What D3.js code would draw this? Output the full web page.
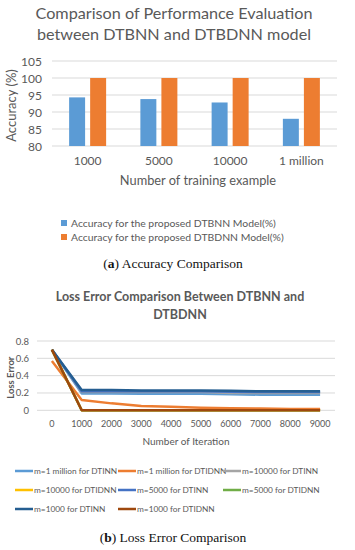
<!DOCTYPE html>
<html>
<head>
<meta charset="utf-8">
<script src="https://cdn.jsdelivr.net/npm/d3@7"></script>
<style>
  body { margin: 0; background: #fff; }
  svg { display: block; }
  .sans { font-family: Lato, "Open Sans", sans-serif; }
  .serif { font-family: "Liberation Serif", "DejaVu Serif", serif; }
</style>
</head>
<body>
<div id="chart"></div>
<script>
// Accuracy chart data
const trainingSizes = ['1000', '5000', '10000', '1 million'];
const accDTBNN = [94.3, 93.8, 92.8, 88.0];
const accDTBDNN = [100, 100, 100, 100];
const accTicks = [80, 85, 90, 95, 100, 105];
const accSeriesNames = ['Accuracy for the proposed DTBNN Model(%)', 'Accuracy for the proposed DTBDNN Model(%)'];

// Loss chart data
const iterations = ['0', '1000', '2000', '3000', '4000', '5000', '6000', '7000', '8000', '9000'];
const loss1mDTINN   = [0.70, 0.195, 0.195, 0.19, 0.19, 0.19, 0.185, 0.18, 0.18, 0.18];
const loss1mDTIDNN  = [0.57, 0.12, 0.08, 0.05, 0.04, 0.03, 0.025, 0.02, 0.015, 0.015];
const loss10kDTINN  = [0.70, 0.21, 0.21, 0.21, 0.21, 0.21, 0.20, 0.20, 0.20, 0.20];
const loss10kDTIDNN = [0.70, 0, 0, 0, 0, 0, 0, 0, 0, 0];
const loss5kDTINN   = [0.70, 0.22, 0.22, 0.22, 0.22, 0.22, 0.215, 0.21, 0.21, 0.21];
const loss5kDTIDNN  = [0.70, 0, 0, 0, 0, 0, 0, 0, 0, 0];
const loss1kDTINN   = [0.70, 0.235, 0.235, 0.23, 0.23, 0.23, 0.225, 0.22, 0.22, 0.22];
const loss1kDTIDNN  = [0.70, 0, 0, 0, 0, 0, 0, 0, 0, 0];
const lossTicks = [0, 0.2, 0.4, 0.6, 0.8];
const lossSeriesNames = [
  'm=1 million for DTINN', 'm=1 million for DTIDNN', 'm=10000 for DTINN',
  'm=10000 for DTIDNN', 'm=5000 for DTINN', 'm=5000 for DTIDNN',
  'm=1000 for DTINN', 'm=1000 for DTIDNN'
];

const textColor = '#595959';
const gridColor = '#d9d9d9';

const svg = d3.select('#chart')
  .append('svg')
  .attr('width', 355)
  .attr('height', 550);

// ---------- Top chart: bars ----------
const accChart = svg.append('g').attr('class', 'sans');

accChart.append('text')
  .attr('x', 174).attr('y', 19)
  .attr('text-anchor', 'middle')
  .style('font-size', '16.2px')
  .style('fill', textColor)
  .text('Comparison of Performance Evaluation');
accChart.append('text')
  .attr('x', 174).attr('y', 39.5)
  .attr('text-anchor', 'middle')
  .style('font-size', '16.2px')
  .style('fill', textColor)
  .text('between DTBNN and DTBDNN model');

const xBar = d3.scaleBand()
  .domain(trainingSizes)
  .range([52, 337]);
const xSub = d3.scaleBand()
  .domain([0, 1])
  .range([xBar.bandwidth() / 2 - 18.5, xBar.bandwidth() / 2 + 18.5])
  .paddingInner(0.24);
const yBar = d3.scaleLinear()
  .domain([80, 105])
  .range([146, 61]);

// gridlines
accChart.append('g')
  .selectAll('line')
  .data(accTicks)
  .enter()
  .append('line')
  .attr('x1', 52).attr('x2', 337)
  .attr('y1', d => yBar(d)).attr('y2', d => yBar(d))
  .attr('stroke', gridColor)
  .attr('stroke-width', 1);

// y axis labels
accChart.append('g')
  .selectAll('text')
  .data(accTicks)
  .enter()
  .append('text')
  .attr('x', 42)
  .attr('y', d => yBar(d) + 4.5)
  .attr('text-anchor', 'end')
  .style('font-size', '12px')
  .style('fill', textColor)
  .text(d => d);

accChart.append('text')
  .attr('transform', `translate(16,${(yBar(80) + yBar(105)) / 2 + 2}) rotate(-90)`)
  .attr('text-anchor', 'middle')
  .style('font-size', '13px')
  .style('fill', textColor)
  .text('Accuracy (%)');

const barColors = ['#5b9bd5', '#ed7d31'];
[accDTBNN, accDTBDNN].forEach((vals, s) => {
  accChart.append('g')
    .selectAll('rect')
    .data(vals)
    .enter()
    .append('rect')
    .attr('x', (d, i) => xBar(trainingSizes[i]) + xSub(s))
    .attr('y', d => yBar(d))
    .attr('width', xSub.bandwidth())
    .attr('height', d => yBar(80) - yBar(d))
    .attr('fill', barColors[s]);
});

// x labels
accChart.append('g')
  .selectAll('text')
  .data(trainingSizes)
  .enter()
  .append('text')
  .attr('x', d => xBar(d) + xBar.bandwidth() / 2)
  .attr('y', 164.5)
  .attr('text-anchor', 'middle')
  .style('font-size', '12px')
  .style('fill', textColor)
  .text(d => d);

accChart.append('text')
  .attr('x', 198).attr('y', 184.5)
  .attr('text-anchor', 'middle')
  .style('font-size', '12.8px')
  .style('fill', textColor)
  .text('Number of training example');

// legend
accSeriesNames.forEach((name, i) => {
  const g = accChart.append('g').attr('transform', `translate(61,${223 + i * 14})`);
  g.append('rect')
    .attr('x', 0).attr('y', -3)
    .attr('width', 6).attr('height', 6)
    .attr('fill', barColors[i]);
  g.append('text')
    .attr('x', 10).attr('y', 3.8)
    .style('font-size', '10.4px')
    .style('fill', textColor)
    .text(name);
});

// caption (a)
const capA = svg.append('text')
  .attr('class', 'serif')
  .attr('x', 173).attr('y', 268)
  .attr('text-anchor', 'middle')
  .style('font-size', '13.5px')
  .style('fill', '#111');
capA.append('tspan').text('(');
capA.append('tspan').style('font-weight', 'bold').text('a');
capA.append('tspan').text(') Accuracy Comparison');

// ---------- Bottom chart: lines ----------
const lossChart = svg.append('g').attr('class', 'sans');

lossChart.append('text')
  .attr('x', 180).attr('y', 301)
  .attr('text-anchor', 'middle')
  .style('font-size', '12.5px')
  .style('font-weight', 'bold')
  .style('fill', textColor)
  .text('Loss Error Comparison Between DTBNN and');
lossChart.append('text')
  .attr('x', 180).attr('y', 319)
  .attr('text-anchor', 'middle')
  .style('font-size', '12.5px')
  .style('font-weight', 'bold')
  .style('fill', textColor)
  .text('DTBDNN');

const xLine = d3.scaleBand()
  .domain(iterations)
  .range([37, 335]);
const yLine = d3.scaleLinear()
  .domain([0, 0.8])
  .range([410.3, 341]);

lossChart.append('g')
  .selectAll('line')
  .data(lossTicks)
  .enter()
  .append('line')
  .attr('x1', 37).attr('x2', 335)
  .attr('y1', d => yLine(d)).attr('y2', d => yLine(d))
  .attr('stroke', gridColor)
  .attr('stroke-width', 1);

lossChart.append('g')
  .selectAll('text')
  .data(lossTicks)
  .enter()
  .append('text')
  .attr('x', 29)
  .attr('y', d => yLine(d) + 3.5)
  .attr('text-anchor', 'end')
  .style('font-size', '9.5px')
  .style('fill', textColor)
  .text(d => d);

lossChart.append('text')
  .attr('transform', `translate(14,${(yLine(0) + yLine(0.8)) / 2 + 2}) rotate(-90)`)
  .attr('text-anchor', 'middle')
  .style('font-size', '9.5px')
  .style('font-weight', 'bold')
  .style('fill', textColor)
  .text('Loss Error');

const lossSeries = [loss1mDTINN, loss1mDTIDNN, loss10kDTINN, loss10kDTIDNN,
  loss5kDTINN, loss5kDTIDNN, loss1kDTINN, loss1kDTIDNN];
const lineColors = ['#5b9bd5', '#ed7d31', '#a5a5a5', '#ffc000',
  '#4472c4', '#70ad47', '#255e91', '#9e480e'];

const line = d3.line()
  .x((d, i) => xLine(iterations[i]) + xLine.bandwidth() / 2)
  .y(d => yLine(d));

lossSeries.forEach((vals, s) => {
  lossChart.append('path')
    .datum(vals)
    .attr('d', line)
    .attr('fill', 'none')
    .attr('stroke', lineColors[s])
    .attr('stroke-width', 2.5)
    .attr('stroke-linejoin', 'round');
});

lossChart.append('g')
  .selectAll('text')
  .data(iterations)
  .enter()
  .append('text')
  .attr('x', d => xLine(d) + xLine.bandwidth() / 2)
  .attr('y', 427)
  .attr('text-anchor', 'middle')
  .style('font-size', '9px')
  .style('fill', textColor)
  .text(d => d);

lossChart.append('text')
  .attr('x', 186).attr('y', 445)
  .attr('text-anchor', 'middle')
  .style('font-size', '10px')
  .style('fill', textColor)
  .text('Number of Iteration');

// legend, 3 columns
const legCols = [15, 118, 223];
lossSeriesNames.forEach((name, i) => {
  const g = lossChart.append('g')
    .attr('transform', `translate(${legCols[i % 3]},${471 + Math.floor(i / 3) * 19})`);
  g.append('line')
    .attr('x1', 0).attr('x2', 18)
    .attr('y1', 0).attr('y2', 0)
    .attr('stroke', lineColors[i])
    .attr('stroke-width', 2.5);
  g.append('text')
    .attr('x', 19).attr('y', 3)
    .style('font-size', '8.3px')
    .style('fill', textColor)
    .text(name);
});

// caption (b)
const capB = svg.append('text')
  .attr('class', 'serif')
  .attr('x', 173).attr('y', 542)
  .attr('text-anchor', 'middle')
  .style('font-size', '13.5px')
  .style('fill', '#111');
capB.append('tspan').text('(');
capB.append('tspan').style('font-weight', 'bold').text('b');
capB.append('tspan').text(') Loss Error Comparison');
</script>
</body>
</html>
